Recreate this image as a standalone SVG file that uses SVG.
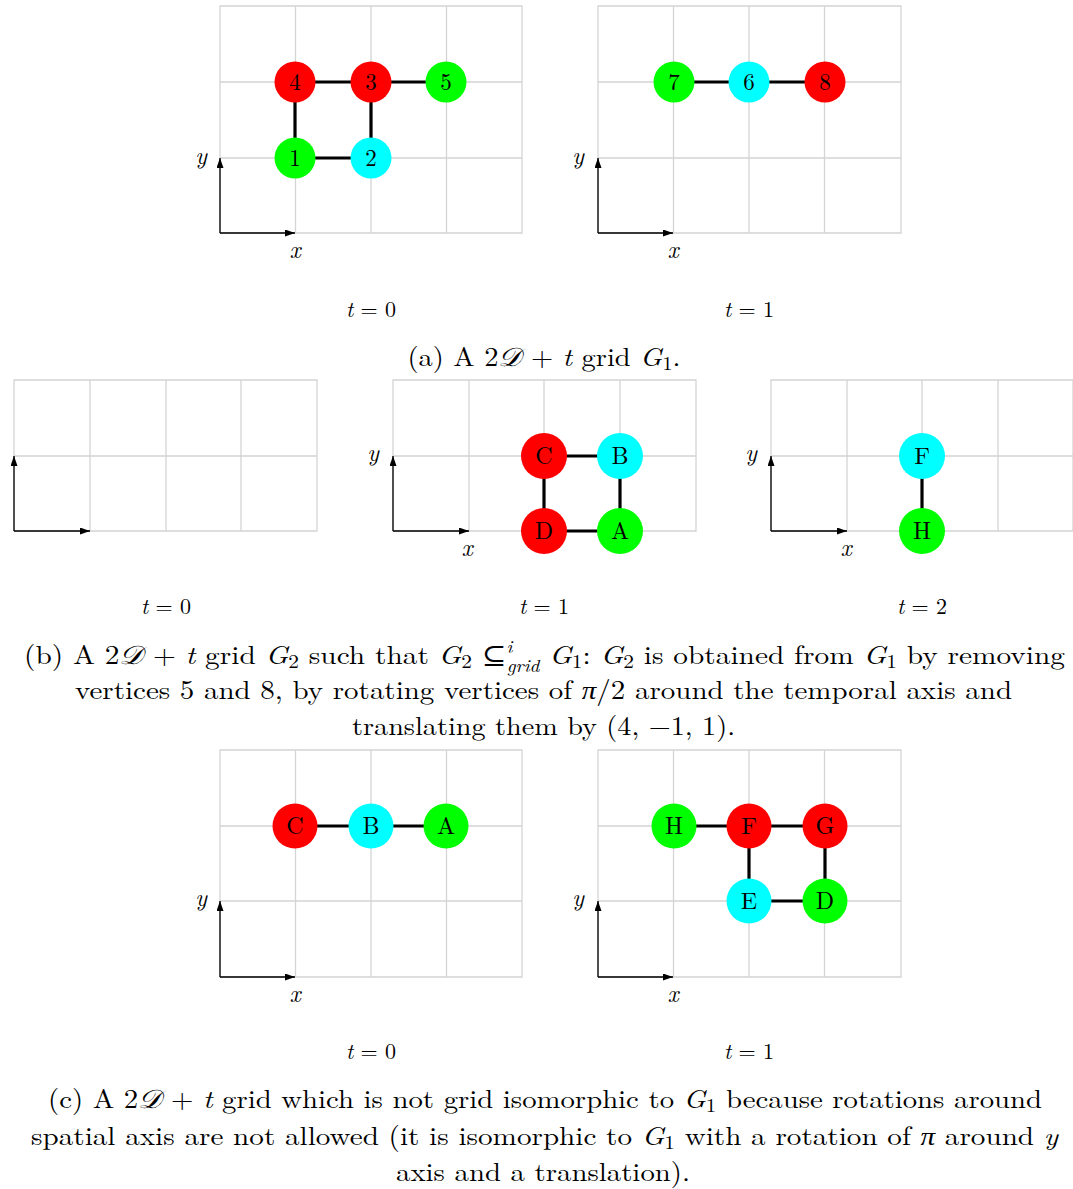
<svg xmlns="http://www.w3.org/2000/svg" width="1073" height="1189" viewBox="0 0 1073 1189">
<defs>
<marker id="ah" viewBox="0 0 10 10" refX="10" refY="5" markerWidth="10" markerHeight="7" markerUnits="userSpaceOnUse" orient="auto" preserveAspectRatio="none"><path d="M0,0 L10,5 L0,10 z" fill="#000"/></marker>
</defs>
<style>
text{font-family:"Latin Modern Roman","Liberation Serif","DejaVu Serif",serif;fill:#000}
.gr{fill:none;stroke:#d4d4d4;stroke-width:1.3}
.ax{stroke:#000;stroke-width:1.3;fill:none;marker-end:url(#ah)}
.edge{stroke:#000;stroke-width:3.2}
.r{fill:#ff0000}.g{fill:#00ff00}.c{fill:#00ffff}
.nl{font-size:23px;text-anchor:middle}
.nb{font-size:24px;text-anchor:middle}
.tl{font-size:22px;text-anchor:middle}
.al{font-size:24px;font-style:italic;text-anchor:middle}
.cap{font-size:26px;text-anchor:middle}
.i{font-style:italic}
</style>
<rect width="1073" height="1189" fill="#fff"/>

<!-- grids -->
<g id="grids">
<path class="gr" d="M220,6H522V233H220Z M295.5,6V233 M371,6V233 M446.5,6V233 M220,82H522 M220,158H522"/>
<path class="gr" d="M598,6H901V233H598Z M673.5,6V233 M749,6V233 M824.5,6V233 M598,82H901 M598,158H901"/>
<path class="gr" d="M14,380H317V531H14Z M90,380V531 M166,380V531 M241,380V531 M14,456H317"/>
<path class="gr" d="M393,380H696V531H393Z M469,380V531 M544,380V531 M620,380V531 M393,456H696"/>
<path class="gr" d="M771,380H1073V531H771Z M847,380V531 M922,380V531 M998,380V531 M771,456H1073"/>
<path class="gr" d="M220,750H522V977H220Z M295.5,750V977 M371,750V977 M446.5,750V977 M220,826H522 M220,901H522"/>
<path class="gr" d="M598,750H901V977H598Z M673.5,750V977 M749,750V977 M824.5,750V977 M598,826H901 M598,901H901"/>
</g>

<!-- axes -->
<g id="axes">
<path class="ax" d="M220,233H295"/><path class="ax" d="M220,233V158"/>
<text class="al" x="201" y="164">y</text><text class="al" x="295" y="258">x</text>
<path class="ax" d="M598,233H673"/><path class="ax" d="M598,233V158"/>
<text class="al" x="578" y="164">y</text><text class="al" x="673" y="258">x</text>
<path class="ax" d="M14,531H90"/><path class="ax" d="M14,531V456"/>
<path class="ax" d="M393,531H469"/><path class="ax" d="M393,531V456"/>
<text class="al" x="373" y="461">y</text><text class="al" x="467" y="556">x</text>
<path class="ax" d="M771,531H847"/><path class="ax" d="M771,531V456"/>
<text class="al" x="751" y="461">y</text><text class="al" x="846" y="556">x</text>
<path class="ax" d="M220,977H295"/><path class="ax" d="M220,977V901"/>
<text class="al" x="201" y="906">y</text><text class="al" x="295" y="1002">x</text>
<path class="ax" d="M598,977H673"/><path class="ax" d="M598,977V901"/>
<text class="al" x="578" y="906">y</text><text class="al" x="673" y="1002">x</text>
</g>

<!-- connectors -->
<g id="connectors">
<line class="edge" x1="295" y1="82" x2="371" y2="82"/>
<line class="edge" x1="371" y1="82" x2="446" y2="82"/>
<line class="edge" x1="295" y1="82" x2="295" y2="158"/>
<line class="edge" x1="371" y1="82" x2="371" y2="158"/>
<line class="edge" x1="295" y1="158" x2="371" y2="158"/>
<line class="edge" x1="674" y1="82" x2="749" y2="82"/>
<line class="edge" x1="749" y1="82" x2="825" y2="82"/>
<line class="edge" x1="544" y1="456" x2="620" y2="456"/>
<line class="edge" x1="544" y1="456" x2="544" y2="531"/>
<line class="edge" x1="620" y1="456" x2="620" y2="531"/>
<line class="edge" x1="544" y1="531" x2="620" y2="531"/>
<line class="edge" x1="922" y1="456" x2="922" y2="531"/>
<line class="edge" x1="295" y1="826" x2="371" y2="826"/>
<line class="edge" x1="371" y1="826" x2="446" y2="826"/>
<line class="edge" x1="674" y1="826" x2="749" y2="826"/>
<line class="edge" x1="749" y1="826" x2="825" y2="826"/>
<line class="edge" x1="749" y1="826" x2="749" y2="901"/>
<line class="edge" x1="825" y1="826" x2="825" y2="901"/>
<line class="edge" x1="749" y1="901" x2="825" y2="901"/>
</g>

<!-- nodes panel a -->
<g id="n1"><circle class="g" cx="295" cy="158" r="20.5"/><text class="nl" x="295" y="166">1</text></g>
<g id="n2"><circle class="c" cx="371" cy="158" r="20.5"/><text class="nl" x="371" y="166">2</text></g>
<g id="n3"><circle class="r" cx="371" cy="82" r="20.5"/><text class="nl" x="371" y="90">3</text></g>
<g id="n4"><circle class="r" cx="295" cy="82" r="20.5"/><text class="nl" x="295" y="90">4</text></g>
<g id="n5"><circle class="g" cx="446" cy="82" r="20.5"/><text class="nl" x="446" y="90">5</text></g>
<g id="n7"><circle class="g" cx="674" cy="82" r="20.5"/><text class="nl" x="674" y="90">7</text></g>
<g id="n6"><circle class="c" cx="749" cy="82" r="20.5"/><text class="nl" x="749" y="90">6</text></g>
<g id="n8"><circle class="r" cx="825" cy="82" r="20.5"/><text class="nl" x="825" y="90">8</text></g>

<!-- nodes panel b -->
<g id="bC"><circle class="r" cx="544" cy="456" r="23"/><text class="nb" x="544" y="464">C</text></g>
<g id="bB"><circle class="c" cx="620" cy="456" r="23"/><text class="nb" x="620" y="464">B</text></g>
<g id="bD"><circle class="r" cx="544" cy="531" r="23"/><text class="nb" x="544" y="539">D</text></g>
<g id="bA"><circle class="g" cx="620" cy="531" r="23"/><text class="nb" x="620" y="539">A</text></g>
<g id="bF"><circle class="c" cx="922" cy="456" r="23"/><text class="nb" x="922" y="464">F</text></g>
<g id="bH"><circle class="g" cx="922" cy="531" r="23"/><text class="nb" x="922" y="539">H</text></g>

<!-- nodes panel c -->
<g id="cC"><circle class="r" cx="295" cy="826" r="22.5"/><text class="nb" x="295" y="834">C</text></g>
<g id="cB"><circle class="c" cx="371" cy="826" r="22.5"/><text class="nb" x="371" y="834">B</text></g>
<g id="cA"><circle class="g" cx="446" cy="826" r="22.5"/><text class="nb" x="446" y="834">A</text></g>
<g id="cH"><circle class="g" cx="674" cy="826" r="22.5"/><text class="nb" x="674" y="834">H</text></g>
<g id="cF"><circle class="r" cx="749" cy="826" r="22.5"/><text class="nb" x="749" y="834">F</text></g>
<g id="cG"><circle class="r" cx="825" cy="826" r="22.5"/><text class="nb" x="825" y="834">G</text></g>
<g id="cE"><circle class="c" cx="749" cy="901" r="22.5"/><text class="nb" x="749" y="909">E</text></g>
<g id="cD"><circle class="g" cx="825" cy="901" r="22.5"/><text class="nb" x="825" y="909">D</text></g>

<!-- time labels -->
<g id="tlabels">
<text class="tl" x="371" y="317"><tspan class="i">t</tspan> = 0</text>
<text class="tl" x="749" y="317"><tspan class="i">t</tspan> = 1</text>
<text class="tl" x="166" y="614"><tspan class="i">t</tspan> = 0</text>
<text class="tl" x="544" y="614"><tspan class="i">t</tspan> = 1</text>
<text class="tl" x="922" y="614"><tspan class="i">t</tspan> = 2</text>
<text class="tl" x="371" y="1059"><tspan class="i">t</tspan> = 0</text>
<text class="tl" x="749" y="1059"><tspan class="i">t</tspan> = 1</text>
</g>

<!-- captions -->
<g id="captions">
<text class="cap" x="544" y="366" textLength="273" lengthAdjust="spacingAndGlyphs">(a) A 2<tspan class="i">𝒟</tspan> + <tspan class="i">t</tspan> grid <tspan class="i">G</tspan><tspan font-size="19" dy="4">1</tspan><tspan dy="-4">.</tspan></text>

<text class="cap" x="544.5" y="664" textLength="1041" lengthAdjust="spacingAndGlyphs">(b) A 2<tspan class="i">𝒟</tspan> + <tspan class="i">t</tspan> grid <tspan class="i">G</tspan><tspan font-size="19" dy="4">2</tspan><tspan dy="-4"> such that </tspan><tspan class="i">G</tspan><tspan font-size="19" dy="4">2</tspan><tspan dy="-4"> ⊆</tspan><tspan class="i" font-size="17" dy="-11">i</tspan><tspan class="i" font-size="17" dx="-5" dy="19">grid</tspan><tspan dy="-8"> </tspan><tspan class="i">G</tspan><tspan font-size="19" dy="4">1</tspan><tspan dy="-4">: </tspan><tspan class="i">G</tspan><tspan font-size="19" dy="4">2</tspan><tspan dy="-4"> is obtained from </tspan><tspan class="i">G</tspan><tspan font-size="19" dy="4">1</tspan><tspan dy="-4"> by removing</tspan></text>
<text class="cap" x="543.5" y="699" textLength="937" lengthAdjust="spacingAndGlyphs">vertices 5 and 8, by rotating vertices of <tspan class="i">π</tspan>/2 around the temporal axis and</text>
<text class="cap" x="543.5" y="735" textLength="383" lengthAdjust="spacingAndGlyphs">translating them by (4, −1, 1).</text>

<text class="cap" x="545" y="1108" textLength="994" lengthAdjust="spacingAndGlyphs">(c) A 2<tspan class="i">𝒟</tspan> + <tspan class="i">t</tspan> grid which is not grid isomorphic to <tspan class="i">G</tspan><tspan font-size="19" dy="4">1</tspan><tspan dy="-4"> because rotations around</tspan></text>
<text class="cap" x="544.5" y="1145" textLength="1027" lengthAdjust="spacingAndGlyphs">spatial axis are not allowed (it is isomorphic to <tspan class="i">G</tspan><tspan font-size="19" dy="4">1</tspan><tspan dy="-4"> with a rotation of </tspan><tspan class="i">π</tspan> around <tspan class="i">y</tspan></text>
<text class="cap" x="543" y="1181" textLength="294" lengthAdjust="spacingAndGlyphs">axis and a translation).</text>
</g>
</svg>
